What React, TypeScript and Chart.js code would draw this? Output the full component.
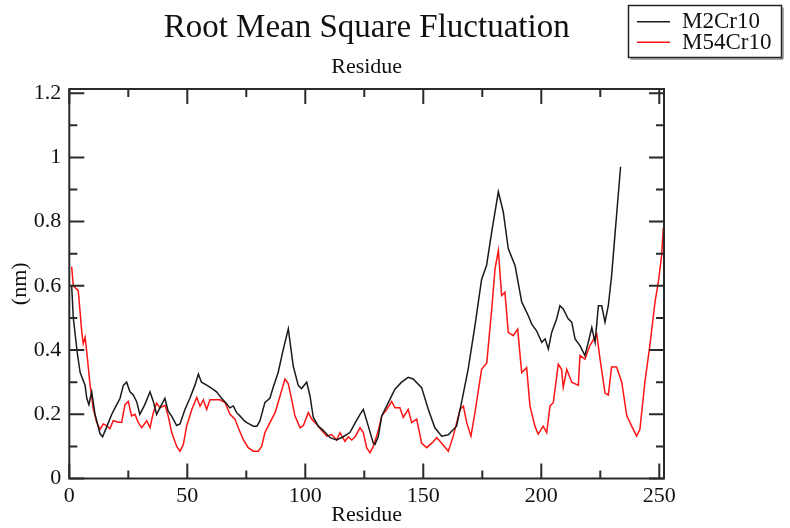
import { useEffect, useRef } from "react";
import { Chart, registerables } from "chart.js";

Chart.register(...registerables);

// RMSF per residue (nm)
const m2Residues = [
  1, 1.7, 3.4, 4.6, 6.7, 7.4, 8.3, 9.5, 10.9, 13, 14.1, 15.8, 18, 20.1, 21.5, 22.9, 24.3, 25.7, 27.1, 28.5,
  29.9, 32, 34.2, 35.6, 37, 38.4, 40.5, 41.9, 43.3, 45.5, 46.9, 49, 51.1, 53.2, 54.7, 56, 58.4, 60.5, 62.4, 64.5,
  66.4, 68, 69.5, 70.9, 72.3, 74.1, 75.2, 78, 79.5, 80.8, 82.9, 85, 86.4, 88.5, 90.6, 92.8, 93.8, 94.9, 97, 98.4,
  100.6, 102, 103.4, 105.5, 107.6, 110.5, 113.3, 116.1, 118.9, 121.2, 123.2, 124.6, 126.7, 128.8, 129.5, 130.9, 132.4, 135.9, 138, 140.8,
  143.6, 145.7, 149.3, 152.1, 154.9, 157.8, 160.6, 164.1, 166.2, 169, 171.9, 174.7, 176.8, 179, 181.8, 183.9, 186, 188.9, 191.7, 194.5,
  196, 198, 200.2, 201.6, 203, 204.4, 206.5, 207.9, 209.3, 211.4, 212.9, 214.3, 216.4, 218.5, 219.9, 221.4, 222.8, 224.2, 225.6, 227,
  228.4, 229.8, 231.2, 232.6, 233.6,
];
const m2Rmsf = [
  0.6, 0.5, 0.39, 0.33, 0.29, 0.25, 0.23, 0.27, 0.2, 0.14, 0.13, 0.16, 0.2, 0.23, 0.25, 0.29, 0.3, 0.27, 0.26, 0.24,
  0.2, 0.23, 0.27, 0.24, 0.2, 0.22, 0.25, 0.21, 0.195, 0.165, 0.17, 0.215, 0.25, 0.29, 0.325, 0.3, 0.29, 0.28, 0.27, 0.25,
  0.235, 0.22, 0.226, 0.205, 0.195, 0.18, 0.174, 0.163, 0.163, 0.18, 0.237, 0.25, 0.284, 0.33, 0.4, 0.466, 0.41, 0.35, 0.29, 0.28,
  0.3, 0.257, 0.19, 0.163, 0.15, 0.127, 0.12, 0.13, 0.143, 0.174, 0.2, 0.215, 0.163, 0.11, 0.106, 0.13, 0.195, 0.247, 0.278, 0.3,
  0.315, 0.31, 0.283, 0.216, 0.158, 0.132, 0.136, 0.163, 0.236, 0.34, 0.476, 0.62, 0.663, 0.768, 0.893, 0.83, 0.716, 0.663, 0.55, 0.507,
  0.48, 0.46, 0.424, 0.435, 0.403, 0.455, 0.497, 0.538, 0.528, 0.497, 0.487, 0.435, 0.414, 0.383, 0.424, 0.47, 0.424, 0.538, 0.538, 0.487,
  0.538, 0.632, 0.757, 0.882, 0.971,
];

const m54Residues = [
  1, 1.7, 3.8, 5.3, 5.9, 6.7, 7.6, 8.8, 10.2, 11.6, 13, 14.4, 15.8, 17.2, 18.6, 20.8, 22.2, 23.6, 25, 26.4,
  27.8, 29.2, 30.7, 32.8, 34.2, 35.6, 37, 38.4, 40.6, 41.9, 43.4, 45.5, 46.9, 48.3, 49.7, 51.9, 54, 55.4, 56.8, 58.2,
  59.6, 61.7, 63.9, 66, 68.1, 70.2, 71.6, 73.7, 75.8, 78, 80.1, 81.5, 82.9, 85, 87.2, 89.3, 91.4, 92.8, 94.2, 95.6,
  97.8, 99.2, 101.3, 102.7, 104.8, 106.9, 109.1, 111.2, 113.3, 114.7, 116.8, 118.2, 119.7, 121.1, 123.2, 124.6, 126, 127.4, 128.8, 130.9,
  132.4, 134.5, 136.6, 138, 140.1, 141.5, 143.6, 145.1, 147.2, 149.3, 151.4, 153.6, 155.7, 157.8, 160.6, 162.7, 165.6, 167, 168.4, 170.2,
  171.9, 174.7, 176.9, 179, 180.4, 181.8, 183.2, 184.6, 186, 188.1, 190, 191.7, 193.8, 195.2, 197.3, 198.7, 200.8, 202.3, 203.7, 205.1,
  207.2, 208.6, 209.3, 210.8, 212.9, 215.7, 216.4, 218.5, 220.6, 223.5, 224.9, 227, 228.4, 229.8, 231.9, 234.1, 236.2, 238.3, 240.4, 241.8,
  243.9, 246, 248.2, 249.6, 251, 251.7,
];
const m54Rmsf = [
  0.66, 0.6, 0.585, 0.455, 0.42, 0.44, 0.38, 0.29, 0.215, 0.175, 0.153, 0.17, 0.165, 0.155, 0.18, 0.175, 0.175, 0.23, 0.24, 0.195,
  0.2, 0.175, 0.158, 0.18, 0.158, 0.205, 0.235, 0.22, 0.228, 0.195, 0.143, 0.1, 0.085, 0.105, 0.163, 0.215, 0.252, 0.225, 0.245, 0.215,
  0.245, 0.245, 0.245, 0.236, 0.2, 0.185, 0.158, 0.122, 0.096, 0.085, 0.085, 0.1, 0.143, 0.174, 0.205, 0.257, 0.31, 0.295, 0.247, 0.195,
  0.158, 0.165, 0.205, 0.185, 0.169, 0.15, 0.132, 0.137, 0.12, 0.143, 0.116, 0.13, 0.12, 0.13, 0.158, 0.143, 0.096, 0.08, 0.1, 0.148,
  0.195, 0.215, 0.24, 0.22, 0.22, 0.19, 0.215, 0.174, 0.185, 0.11, 0.096, 0.11, 0.127, 0.11, 0.085, 0.132, 0.216, 0.225, 0.174, 0.132,
  0.205, 0.34, 0.36, 0.528, 0.653, 0.71, 0.57, 0.58, 0.455, 0.445, 0.465, 0.33, 0.345, 0.226, 0.163, 0.138, 0.163, 0.143, 0.226, 0.236,
  0.356, 0.34, 0.284, 0.34, 0.3, 0.29, 0.383, 0.372, 0.414, 0.45, 0.372, 0.266, 0.26, 0.347, 0.347, 0.3, 0.196, 0.163, 0.132, 0.153,
  0.3, 0.414, 0.55, 0.612, 0.695, 0.78,
];

const seriesNames = ["M2Cr10", "M54Cr10"];
const seriesColors = ["#1a1a1a", "#ff1414"];
const chartTitle = "Root Mean Square Fluctuation";
const chartSubtitle = "Residue";

const SERIF = '"Liberation Serif", "Times New Roman", serif';

const toPoints = (xs: number[], ys: number[]) => xs.map((x, i) => ({ x, y: ys[i] }));

// grace-style box frame with inward ticks on all four sides
const framePlugin = {
  id: "graceFrame",
  afterDatasetsDraw(chart: any) {
    const { ctx, chartArea, scales } = chart;
    const { left, right, top, bottom } = chartArea;
    ctx.save();
    ctx.strokeStyle = "#2a2a2a";
    ctx.lineWidth = 2;
    ctx.strokeRect(left, top, right - left, bottom - top);
    ctx.beginPath();
    scales.x.ticks.forEach((t: any) => {
      const px = scales.x.getPixelForValue(t.value);
      const len = Math.round(t.value) % 50 === 0 ? 15 : 8;
      ctx.moveTo(px, bottom);
      ctx.lineTo(px, bottom - len);
      ctx.moveTo(px, top);
      ctx.lineTo(px, top + len);
    });
    scales.y.ticks.forEach((t: any) => {
      const py = scales.y.getPixelForValue(t.value);
      const len = Math.round(t.value * 10) % 2 === 0 ? 15 : 8;
      ctx.moveTo(left, py);
      ctx.lineTo(left + len, py);
      ctx.moveTo(right, py);
      ctx.lineTo(right - len, py);
    });
    ctx.stroke();
    ctx.restore();
  },
};

const headerPlugin = {
  id: "graceHeader",
  afterDraw(chart: any) {
    const { ctx, chartArea } = chart;
    const cx = (chartArea.left + chartArea.right) / 2;
    ctx.save();
    ctx.fillStyle = "#111";
    ctx.textAlign = "center";
    ctx.textBaseline = "alphabetic";
    ctx.font = `33px ${SERIF}`;
    ctx.fillText(chartTitle, cx, 37);
    ctx.font = `22px ${SERIF}`;
    ctx.fillText(chartSubtitle, cx, 73);

    // legend box
    const bx = 628.5, by = 5.5, bw = 153, bh = 52;
    ctx.strokeStyle = "#222";
    ctx.lineWidth = 1.5;
    ctx.strokeRect(bx, by, bw, bh);
    ctx.strokeStyle = "#555";
    ctx.lineWidth = 1;
    ctx.beginPath();
    ctx.moveTo(bx + 2, by + bh + 1.5);
    ctx.lineTo(bx + bw + 1.5, by + bh + 1.5);
    ctx.lineTo(bx + bw + 1.5, by + 2);
    ctx.stroke();

    ctx.textAlign = "left";
    ctx.font = `23px ${SERIF}`;
    seriesNames.forEach((name, i) => {
      const ly = 21.7 + i * 20.6;
      ctx.strokeStyle = seriesColors[i];
      ctx.lineWidth = 1.5;
      ctx.beginPath();
      ctx.moveTo(637, ly);
      ctx.lineTo(670, ly);
      ctx.stroke();
      ctx.fillStyle = "#111";
      ctx.fillText(name, 682, 28.3 + i * 21);
    });
    ctx.restore();
  },
};

export default function App() {
  const canvasRef = useRef<HTMLCanvasElement>(null);

  useEffect(() => {
    if (!canvasRef.current) return;
    const chart = new Chart(canvasRef.current, {
      type: "line",
      data: {
        datasets: [
          {
            label: seriesNames[0],
            data: toPoints(m2Residues, m2Rmsf),
            borderColor: seriesColors[0],
            borderWidth: 1.5,
            pointRadius: 0,
            tension: 0,
            fill: false,
          },
          {
            label: seriesNames[1],
            data: toPoints(m54Residues, m54Rmsf),
            borderColor: seriesColors[1],
            borderWidth: 1.5,
            pointRadius: 0,
            tension: 0,
            fill: false,
          },
        ],
      },
      options: {
        animation: false,
        responsive: true,
        maintainAspectRatio: false,
        layout: { padding: { top: 89, right: 126, left: 0, bottom: 0 } },
        plugins: {
          legend: { display: false },
          title: { display: false },
          tooltip: { enabled: false },
        },
        scales: {
          x: {
            type: "linear",
            min: 0,
            max: 252,
            grid: { display: false, drawTicks: false },
            border: { display: false },
            ticks: {
              stepSize: 25,
              includeBounds: false,
              autoSkip: false,
              maxRotation: 0,
              padding: 5,
              color: "#111",
              font: { family: SERIF, size: 22 },
              callback: (v: any) => (Math.round(v) % 50 === 0 ? String(Math.round(v)) : ""),
            },
            title: {
              display: true,
              text: "Residue",
              color: "#111",
              font: { family: SERIF, size: 22 },
              padding: { top: 0, bottom: 0 },
            },
            afterFit: (s: any) => {
              s.height = 49.5;
            },
          },
          y: {
            min: 0,
            max: 1.213,
            grid: { display: false, drawTicks: false },
            border: { display: false },
            ticks: {
              stepSize: 0.1,
              includeBounds: false,
              autoSkip: false,
              padding: 8,
              color: "#111",
              font: { family: SERIF, size: 22 },
              callback: (v: any) => {
                const n = Math.round(v * 10);
                return n % 2 === 0 ? String(n / 10) : "";
              },
            },
            title: {
              display: true,
              text: "(nm)",
              color: "#111",
              font: { family: SERIF, size: 22 },
              padding: { top: 7, bottom: 0 },
            },
            afterFit: (s: any) => {
              s.width = 69.3;
            },
          },
        },
      },
      plugins: [framePlugin, headerPlugin],
    });
    return () => {
      chart.destroy();
    };
  }, []);

  return (
    <div style={{ position: "fixed", left: 0, top: 0, width: 790, height: 528, background: "#fff" }}>
      <canvas ref={canvasRef}></canvas>
    </div>
  );
}
